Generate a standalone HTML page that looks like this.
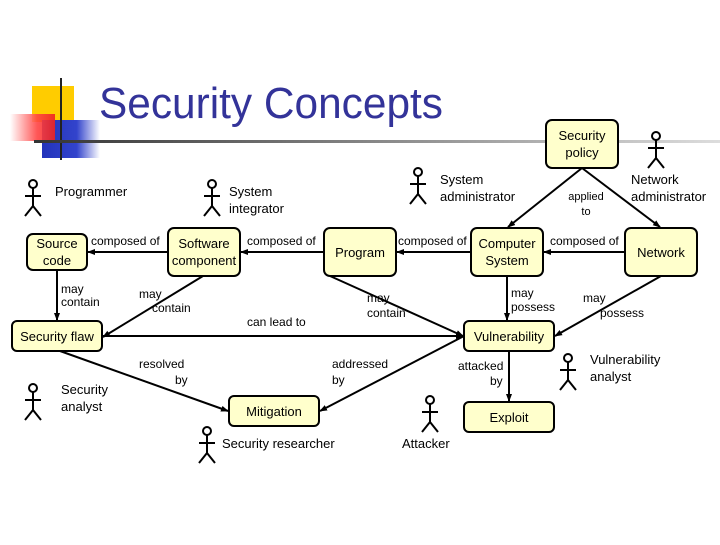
<!DOCTYPE html>
<html><head><meta charset="utf-8"><style>
body{margin:0;background:#fff}
svg text{font-family:"Liberation Sans",sans-serif}
</style></head><body>
<svg width="720" height="540" viewBox="0 0 720 540" xmlns="http://www.w3.org/2000/svg">
<defs>
<linearGradient id="hl" x1="0" x2="1"><stop offset="0" stop-color="#333"/><stop offset="1" stop-color="#ddd"/></linearGradient>
<linearGradient id="bl" x1="0" x2="1"><stop offset="0" stop-color="#2233bb"/><stop offset="0.6" stop-color="#3344cc"/><stop offset="1" stop-color="#fff"/></linearGradient>
<linearGradient id="rd" x1="0" x2="1"><stop offset="0" stop-color="#fff"/><stop offset="0.6" stop-color="#f44"/><stop offset="1" stop-color="#e22"/></linearGradient>
<marker id="a" markerWidth="8" markerHeight="8" refX="7" refY="4" orient="auto" markerUnits="userSpaceOnUse"><path d="M0,1 L8,4 L0,7z" fill="#000"/></marker>
</defs>
<rect x="32" y="86" width="42" height="36" fill="#ffcc00"/>
<rect x="42" y="120" width="58" height="38" fill="url(#bl)"/>
<rect x="10" y="114" width="45" height="27" fill="url(#rd)" opacity="0.9"/>
<line x1="61" y1="78" x2="61" y2="160" stroke="#222" stroke-width="2"/>
<rect x="34" y="140" width="686" height="3" fill="url(#hl)"/>
<text x="99" y="118" font-size="44" fill="#333399" textLength="344" lengthAdjust="spacingAndGlyphs">Security Concepts</text>

<g fill="#ffffcc" stroke="#000" stroke-width="2">
<rect x="27" y="234" width="60" height="36" rx="6"/>
<rect x="168" y="228" width="72" height="48" rx="6"/>
<rect x="324" y="228" width="72" height="48" rx="6"/>
<rect x="471" y="228" width="72" height="48" rx="6"/>
<rect x="625" y="228" width="72" height="48" rx="6"/>
<rect x="546" y="120" width="72" height="48" rx="6"/>
<rect x="12" y="321" width="90" height="30" rx="5"/>
<rect x="464" y="321" width="90" height="30" rx="5"/>
<rect x="229" y="396" width="90" height="30" rx="5"/>
<rect x="464" y="402" width="90" height="30" rx="5"/>
</g>
<g font-size="13" text-anchor="middle" fill="#000">
<text x="57" y="248">Source</text><text x="57" y="265">code</text>
<text x="204" y="248">Software</text><text x="204" y="265">component</text>
<text x="360" y="257">Program</text>
<text x="507" y="248">Computer</text><text x="507" y="265">System</text>
<text x="661" y="257">Network</text>
<text x="582" y="140">Security</text><text x="582" y="157">policy</text>
<text x="57" y="341">Security flaw</text>
<text x="509" y="341">Vulnerability</text>
<text x="274" y="416">Mitigation</text>
<text x="509" y="422">Exploit</text>
</g>
<g stroke="#000" stroke-width="2" marker-end="url(#a)">
<line x1="168" y1="252" x2="88" y2="252"/>
<line x1="324" y1="252" x2="241" y2="252"/>
<line x1="471" y1="252" x2="397" y2="252"/>
<line x1="625" y1="252" x2="544" y2="252"/>
<line x1="582" y1="168" x2="508" y2="227"/>
<line x1="582" y1="168" x2="660" y2="227"/>
<line x1="57" y1="270" x2="57" y2="320"/>
<line x1="203" y1="276" x2="103" y2="337"/>
<line x1="330" y1="276" x2="463" y2="336"/>
<line x1="507" y1="276" x2="507" y2="320"/>
<line x1="661" y1="276" x2="555" y2="336"/>
<line x1="103" y1="336" x2="463" y2="336"/>
<line x1="60" y1="351" x2="228" y2="411"/>
<line x1="464" y1="336" x2="320" y2="411"/>
<line x1="509" y1="351" x2="509" y2="401"/>
</g>
<g font-size="12" fill="#000">
<text x="91" y="245">composed of</text>
<text x="247" y="245">composed of</text>
<text x="398" y="245">composed of</text>
<text x="550" y="245">composed of</text>
<text x="586" y="200" font-size="11" text-anchor="middle">applied</text><text x="586" y="215" font-size="11" text-anchor="middle">to</text>
<text x="61" y="293">may</text><text x="61" y="306">contain</text>
<text x="139" y="298">may</text><text x="152" y="312">contain</text>
<text x="367" y="302">may</text><text x="367" y="317">contain</text>
<text x="511" y="297">may</text><text x="511" y="311">possess</text>
<text x="583" y="302">may</text><text x="600" y="317">possess</text>
<text x="247" y="326">can lead to</text>
<text x="139" y="368">resolved</text><text x="175" y="384">by</text>
<text x="332" y="368">addressed</text><text x="332" y="384">by</text>
<text x="458" y="370">attacked</text><text x="490" y="385">by</text>
</g>
<g font-size="13" fill="#000">
<text x="55" y="196">Programmer</text>
<text x="229" y="196">System</text><text x="229" y="213">integrator</text>
<text x="440" y="184">System</text><text x="440" y="201">administrator</text>
<text x="631" y="184">Network</text><text x="631" y="201">administrator</text>
<text x="61" y="394">Security</text><text x="61" y="411">analyst</text>
<text x="222" y="448">Security researcher</text>
<text x="402" y="448">Attacker</text>
<text x="590" y="364">Vulnerability</text><text x="590" y="381">analyst</text>
</g>
<g fill="none" stroke="#000" stroke-width="2">
<g transform="translate(33,180)"><circle cx="0" cy="4" r="4"/><path d="M0,8V26M-8,16H8M-8,36L0,26L8,36"/></g>
<g transform="translate(212,180)"><circle cx="0" cy="4" r="4"/><path d="M0,8V26M-8,16H8M-8,36L0,26L8,36"/></g>
<g transform="translate(418,168)"><circle cx="0" cy="4" r="4"/><path d="M0,8V26M-8,16H8M-8,36L0,26L8,36"/></g>
<g transform="translate(656,132)"><circle cx="0" cy="4" r="4"/><path d="M0,8V26M-8,16H8M-8,36L0,26L8,36"/></g>
<g transform="translate(33,384)"><circle cx="0" cy="4" r="4"/><path d="M0,8V26M-8,16H8M-8,36L0,26L8,36"/></g>
<g transform="translate(207,427)"><circle cx="0" cy="4" r="4"/><path d="M0,8V26M-8,16H8M-8,36L0,26L8,36"/></g>
<g transform="translate(430,396)"><circle cx="0" cy="4" r="4"/><path d="M0,8V26M-8,16H8M-8,36L0,26L8,36"/></g>
<g transform="translate(568,354)"><circle cx="0" cy="4" r="4"/><path d="M0,8V26M-8,16H8M-8,36L0,26L8,36"/></g>
</g>
</svg>
</body></html>
